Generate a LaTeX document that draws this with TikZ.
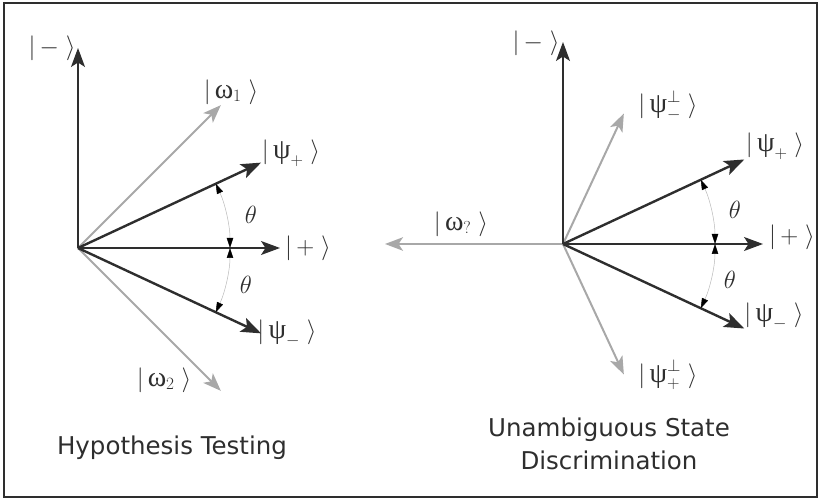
\documentclass[tikz,border=0pt]{standalone}
\usepackage{fontspec}
\setmainfont{Liberation Serif}
\newfontfamily\capfont{DejaVu Sans}
\usetikzlibrary{arrows.meta}
\definecolor{ink}{HTML}{2E2E2E}
\definecolor{pale}{HTML}{A8A8A8}
\definecolor{arcgray}{HTML}{B8B8B8}
% ket label: |content>
\newcommand\ketlab[1]{$|\,#1\;\rangle$}
% upright Greek letter, set a little larger than the surrounding math
\newcommand\gk[1]{\mbox{\fontsize{28}{28}\selectfont #1}}
\begin{document}
\begin{tikzpicture}[x=1pt,y=1pt,
  frame/.style={draw=ink, line width=2pt},
  axis/.style={draw=ink, line width=1.3pt, -{Stealth[length=19pt,width=14pt,inset=4.5pt]}},
  state/.style={draw=ink, line width=2.4pt, -{Stealth[length=20pt,width=15pt,inset=4.5pt]}},
  aux/.style={draw=pale, line width=2pt, -{Stealth[length=18pt,width=13.5pt,inset=4.5pt]}},
  anglearc/.style={draw=arcgray, line width=0.5pt,
    {Triangle[length=10pt,width=6.5pt,color=black]}-{Triangle[length=10pt,width=6.5pt,color=black]}},
  ket/.style={font=\fontsize{23}{27}\selectfont, inner sep=0pt, text=ink},
  ang/.style={font=\fontsize{26}{30}\selectfont, inner sep=0pt, text=ink},
  caption/.style={font=\capfont\fontsize{24.5}{33}\selectfont, align=center, text=ink, inner sep=0pt}]
\useasboundingbox (0,0) rectangle (821,500);
\draw[frame] (4,3) rectangle (817,497);

% ---------- Hypothesis testing ----------
\coordinate (L0) at (78,252);
\coordinate (Lminus) at ([shift={(90:200)}]L0);
\coordinate (Lplus)  at ([shift={(0:202)}]L0);
\coordinate (Lpsip)  at ([shift={(25:202)}]L0);
\coordinate (Lpsim)  at ([shift={(-25:202)}]L0);
\coordinate (Lw1)    at ([shift={(45:202)}]L0);
\coordinate (Lw2)    at ([shift={(-45:202)}]L0);

\draw[aux] (L0) -- (Lw1);
\draw[aux] (L0) -- (Lw2);
\draw[axis] (L0) -- (Lminus);
\draw[axis] (L0) -- (Lplus);
\draw[state] (L0) -- (Lpsip);
\draw[state] (L0) -- (Lpsim);
\draw[anglearc] ([shift={(25:152)}]L0) arc[start angle=25, end angle=0, radius=152];
\draw[anglearc] ([shift={(0:152)}]L0) arc[start angle=0, end angle=-25, radius=152];

\node[ket] (Lminuslab) at (52,452) {\ketlab{{-}}};
\node[ket] (Lpluslab)  at (308,252) {\ketlab{+}};
\node[ket] (Lw1lab)    at (231,408) {\ketlab{\gk{ω}_{1}}};
\node[ket] (Lw2lab)    at (164,120) {\ketlab{\gk{ω}_{2}}};
\node[ket] (Lpsiplab)  at (291,347) {\ketlab{\gk{ψ}_{+}}};
\node[ket] (Lpsimlab)  at (287,167) {\ketlab{\gk{ψ}_{-}}};
\node[ang] (Lth1) at (251,285) {$\theta$};
\node[ang] (Lth2) at (246,215) {$\theta$};
\node[caption] (Lcap) at (172,52) {Hypothesis Testing};

% ---------- Unambiguous state discrimination ----------
\coordinate (R0) at (563,256);
\coordinate (Rminus) at ([shift={(90:202)}]R0);
\coordinate (Rplus)  at ([shift={(0:200)}]R0);
\coordinate (Rpsip)  at ([shift={(25:200)}]R0);
\coordinate (Rpsim)  at ([shift={(-25:200)}]R0);
\coordinate (Rperpm) at ([shift={(65:144)}]R0);
\coordinate (Rperpp) at ([shift={(-65:144)}]R0);
\coordinate (Rwq)    at ([shift={(180:178)}]R0);

\draw[aux] (R0) -- (Rperpm);
\draw[aux] (R0) -- (Rperpp);
\draw[aux] (R0) -- (Rwq);
\draw[axis] (R0) -- (Rminus);
\draw[axis] (R0) -- (Rplus);
\draw[state] (R0) -- (Rpsip);
\draw[state] (R0) -- (Rpsim);
\draw[anglearc] ([shift={(25:152)}]R0) arc[start angle=25, end angle=0, radius=152];
\draw[anglearc] ([shift={(0:152)}]R0) arc[start angle=0, end angle=-25, radius=152];

\node[ket] (Rminuslab) at (536,457) {\ketlab{{-}}};
\node[ket] (Rpluslab)  at (792,263) {\ketlab{+}};
\node[ket] (Rpsiplab)  at (775,354) {\ketlab{\gk{ψ}_{+}}};
\node[ket] (Rpsimlab)  at (774,184) {\ketlab{\gk{ψ}_{-}}};
\node[ket] (Rperpmlab) at (668,394) {\ketlab{\gk{ψ}^{\perp}_{-}}};
\node[ket] (Rperpplab) at (668,125) {\ketlab{\gk{ψ}^{\perp}_{+}}};
\node[ket] (Rwqlab)    at (461,276) {\ketlab{\gk{ω}_{?}}};
\node[ang] (Rth1) at (735,290) {$\theta$};
\node[ang] (Rth2) at (730,220) {$\theta$};
\node[caption] (Rcap) at (609,56) {Unambiguous State\\Discrimination};
\end{tikzpicture}
\end{document}
